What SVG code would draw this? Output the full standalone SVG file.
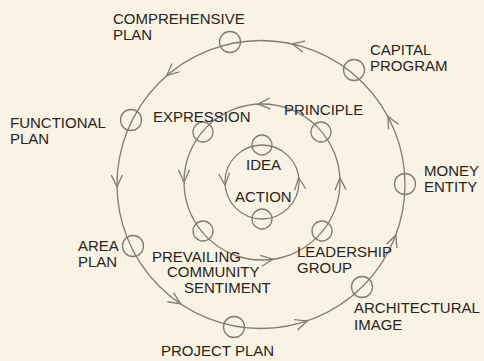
<svg xmlns="http://www.w3.org/2000/svg" xmlns:xlink="http://www.w3.org/1999/xlink" width="484" height="361" viewBox="0 0 484 361">
  <style>
    .ring { fill: none; stroke: #857975; stroke-width: 1.3; }
    .node { fill: none; stroke: #857975; stroke-width: 1.3; }
    .ah { fill: none; stroke: #857975; stroke-width: 1.3; stroke-linejoin: miter; }
    text { font-family: "Liberation Sans", Arial, sans-serif; font-size: 15px; fill: #2a2320; }
  </style>
  <defs>
    <path id="ah" class="ah" d="M-12,-5.5 L0,0 L-12,5.5"/>
  </defs>
  <rect x="0" y="0" width="484" height="361" fill="#f8f3e4"/>

  <g id="connectors">
    <circle class="ring" cx="261" cy="184.5" r="144"/>
    <circle class="ring" cx="262" cy="182" r="78"/>
    <circle class="ring" cx="262" cy="182" r="37"/>
    <!-- outer ring arrowheads (counter-clockwise flow) -->
    <use xlink:href="#ah" transform="translate(292.2,43.9) rotate(-167.5)"/>
    <use xlink:href="#ah" transform="translate(166.7,75.6) rotate(-220.9)"/>
    <use xlink:href="#ah" transform="translate(117,187) rotate(89)"/>
    <use xlink:href="#ah" transform="translate(180.5,303.9) rotate(34)"/>
    <use xlink:href="#ah" transform="translate(307.2,320.9) rotate(-18.7)"/>
    <use xlink:href="#ah" transform="translate(395.9,235) rotate(-69.5)"/>
    <use xlink:href="#ah" transform="translate(387.8,116.2) rotate(-118.3)"/>
    <!-- middle ring arrowheads -->
    <use xlink:href="#ah" transform="translate(258,104.1) rotate(-183)"/>
    <use xlink:href="#ah" transform="translate(184,182) rotate(90)"/>
    <use xlink:href="#ah" transform="translate(272.9,259.2) rotate(-8)"/>
    <use xlink:href="#ah" transform="translate(339.9,177.9) rotate(-93)"/>
    <!-- inner ring arrowheads -->
    <use xlink:href="#ah" transform="translate(225.1,185.2) rotate(85)"/>
    <use xlink:href="#ah" transform="translate(298.7,177.5) rotate(-97)"/>
  </g>

  <g id="comprehensive-plan">
    <circle class="node" cx="230" cy="42" r="10.5"/>
    <text x="113" y="24">COMPREHENSIVE</text>
    <text x="113" y="40">PLAN</text>
  </g>
  <g id="capital-program">
    <circle class="node" cx="354" cy="70" r="10.5"/>
    <text x="370" y="55">CAPITAL</text>
    <text x="370" y="71">PROGRAM</text>
  </g>
  <g id="money-entity">
    <circle class="node" cx="405" cy="184" r="10.5"/>
    <text x="424" y="176">MONEY</text>
    <text x="424" y="192">ENTITY</text>
  </g>
  <g id="architectural-image">
    <circle class="node" cx="362" cy="287" r="10.5"/>
    <text x="354" y="313">ARCHITECTURAL</text>
    <text x="354" y="330">IMAGE</text>
  </g>
  <g id="project-plan">
    <circle class="node" cx="234" cy="327" r="10.5"/>
    <text x="161" y="356">PROJECT PLAN</text>
  </g>
  <g id="area-plan">
    <circle class="node" cx="133" cy="246" r="10.5"/>
    <text x="78" y="251">AREA</text>
    <text x="78" y="267">PLAN</text>
  </g>
  <g id="functional-plan">
    <circle class="node" cx="131" cy="120" r="10.5"/>
    <text x="10" y="128">FUNCTIONAL</text>
    <text x="10" y="144">PLAN</text>
  </g>
  <g id="expression">
    <circle class="node" cx="203" cy="132" r="10"/>
    <text x="153" y="122">EXPRESSION</text>
  </g>
  <g id="principle">
    <circle class="node" cx="321" cy="132" r="10"/>
    <text x="284" y="115">PRINCIPLE</text>
  </g>
  <g id="leadership-group">
    <circle class="node" cx="322" cy="231" r="10"/>
    <text x="297" y="257">LEADERSHIP</text>
    <text x="297" y="273">GROUP</text>
  </g>
  <g id="prevailing-community-sentiment">
    <circle class="node" cx="203" cy="231" r="10"/>
    <text x="152" y="262">PREVAILING</text>
    <text x="167" y="277">COMMUNITY</text>
    <text x="184" y="293">SENTIMENT</text>
  </g>
  <g id="idea">
    <circle class="node" cx="262" cy="145" r="10"/>
    <text x="246" y="170">IDEA</text>
  </g>
  <g id="action">
    <circle class="node" cx="262" cy="219" r="10"/>
    <text x="235" y="202">ACTION</text>
  </g>
</svg>
